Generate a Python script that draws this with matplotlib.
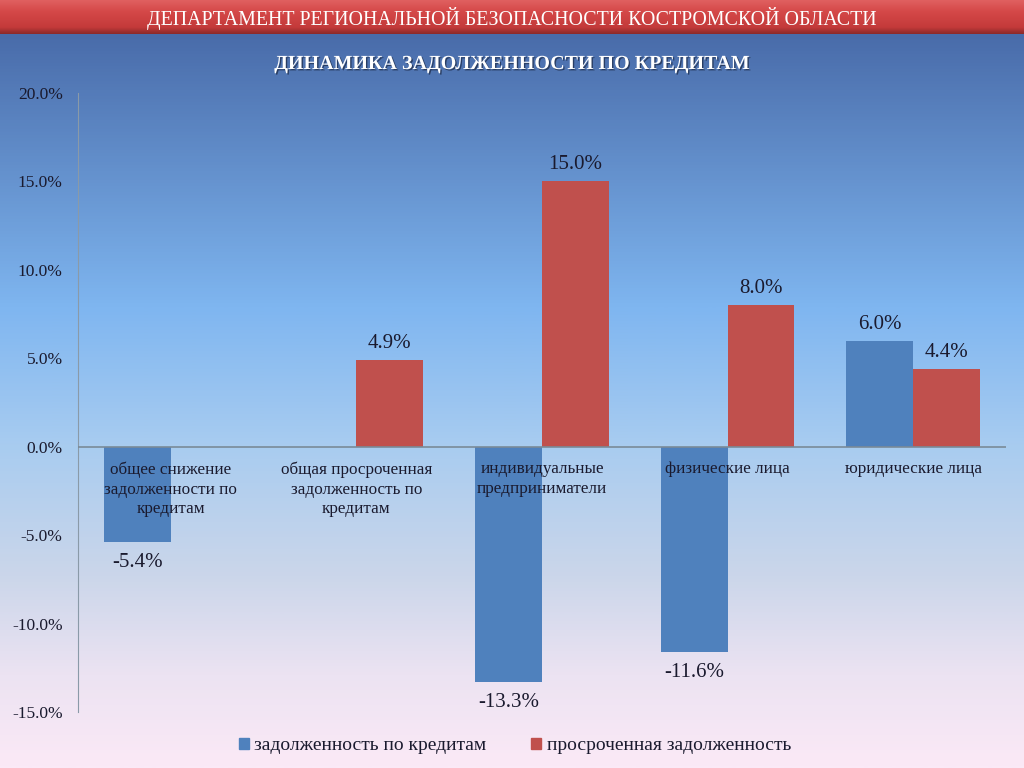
import numpy as np
import matplotlib
matplotlib.use("Agg")
import matplotlib.pyplot as plt
from matplotlib.colors import LinearSegmentedColormap
from matplotlib.patches import Patch
import matplotlib.patheffects as pe

categories = ["общее снижение\nзадолженности по\nкредитам",
              "общая просроченная\nзадолженность по\nкредитам",
              "индивидуальные\nпредприниматели",
              "физические лица",
              "юридические лица"]
debt = [-5.4, 0.0, -13.3, -11.6, 6.0]
overdue = [0.0, 4.9, 15.0, 8.0, 4.4]
series_names = ["задолженность по кредитам", "просроченная задолженность"]
yticks = [-15, -10, -5, 0, 5, 10, 15, 20]
header = "ДЕПАРТАМЕНТ РЕГИОНАЛЬНОЙ БЕЗОПАСНОСТИ КОСТРОМСКОЙ ОБЛАСТИ"
subtitle = "ДИНАМИКА ЗАДОЛЖЕННОСТИ ПО КРЕДИТАМ"

BLUE = "#4f81bd"
RED = "#c0504d"
TXT = "#1a1a2e"
FONT = ["Liberation Serif", "DejaVu Serif"]
plt.rcParams["font.family"] = FONT

W, H = 1024, 768
fig = plt.figure(figsize=(W / 100, H / 100), dpi=100)

# background gradient
bg = fig.add_axes([0, 0, 1, 1], zorder=-10)
stops = [(0.0, "#486aa8"), (0.05, "#4a6dab"), (0.40, "#7fb6f0"),
         (0.58, "#a8ccf0"), (0.75, "#cbd6ea"), (0.88, "#ece3f2"), (1.0, "#fbe9f6")]
cmap = LinearSegmentedColormap.from_list("bg", stops)
grad = np.linspace(0, 1, 512).reshape(-1, 1)
bg.imshow(grad, aspect="auto", cmap=cmap, extent=[0, 1, 0, 1], origin="upper")
# header band
hstops = [(0.0, "#e06060"), (0.35, "#d44848"), (0.8, "#c43a3a"), (1.0, "#8a2a2a")]
hcmap = LinearSegmentedColormap.from_list("hd", hstops)
bg.imshow(grad, aspect="auto", cmap=hcmap, extent=[0, 1, 1 - 34 / H, 1], origin="upper")
bg.set_xlim(0, 1)
bg.set_ylim(0, 1)
bg.axis("off")

fig.text(512 / W, 1 - 18 / H, header, ha="center", va="center", color="white",
         fontsize=14.3)
fig.text(512 / W, 1 - 64 / H, subtitle, ha="center", va="center", color="white",
         fontsize=14.4, fontweight="bold",
         path_effects=[pe.withSimplePatchShadow(offset=(1, -1), shadow_rgbFace="#203050", alpha=0.8)])

ax = fig.add_axes([78 / W, 1 - 712 / H, (1006 - 78) / W, (712 - 93) / H])
ax.patch.set_alpha(0)
x = np.arange(len(categories))
bw = 0.36
b1 = ax.bar(x - bw / 2, debt, bw, color=BLUE, label=series_names[0], zorder=2)
b2 = ax.bar(x + bw / 2, overdue, bw, color=RED, label=series_names[1], zorder=2)
ax.set_xlim(-0.5, len(categories) - 0.5)
ax.set_ylim(-15, 20)
ax.set_yticks(yticks)
ax.set_yticklabels([f"{v:.1f}%" for v in yticks], fontsize=12.5, color=TXT)
ax.tick_params(axis="y", length=0, pad=11)
ax.set_xticks([])
for s in ["top", "right", "bottom"]:
    ax.spines[s].set_visible(False)
ax.spines["left"].set_color("#8a9aa8")
ax.axhline(0, color="#7a8a98", lw=1.2, zorder=3)

for bars, vals in ((b1, debt), (b2, overdue)):
    for rect, v in zip(bars, vals):
        if v == 0:
            continue
        cx = rect.get_x() + rect.get_width() / 2
        if v > 0:
            ax.annotate(f"{v:.1f}%", (cx, v), xytext=(0, 5), textcoords="offset points",
                        ha="center", va="bottom", fontsize=15, color=TXT)
        else:
            ax.annotate(f"{v:.1f}%", (cx, v), xytext=(0, -8), textcoords="offset points",
                        ha="center", va="top", fontsize=15, color=TXT)

for i, c in enumerate(categories):
    ax.annotate(c, (i, 0), xytext=(0, -10.5), textcoords="offset points",
                ha="center", va="top", fontsize=12.3, color=TXT, linespacing=1.32, zorder=4)

handles = [Patch(color=BLUE), Patch(color=RED)]
fig.legend(handles, series_names, loc="center", bbox_to_anchor=(515 / W, 1 - 746 / H),
           ncol=2, frameon=False, fontsize=14, handlelength=0.5, handleheight=0.5,
           handletextpad=0.3, columnspacing=2.3, labelcolor=TXT)

fig.savefig("out.png", dpi=100)
